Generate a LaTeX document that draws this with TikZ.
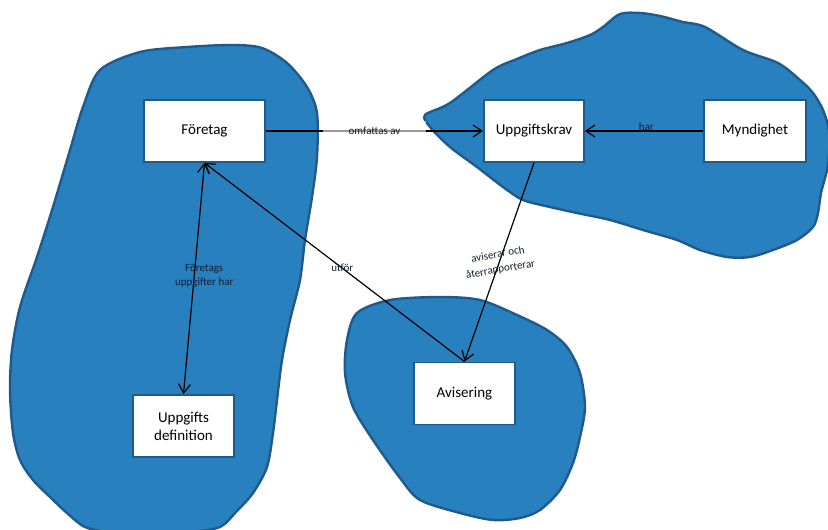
\documentclass[tikz,border=0pt]{standalone}
\usepackage{fontspec}
\setmainfont{Carlito}
\usetikzlibrary{arrows.meta}
\definecolor{blobfill}{RGB}{41,128,190}
\definecolor{blobline}{RGB}{30,90,140}
\definecolor{labeltext}{RGB}{20,30,45}
\tikzset{
  blob/.style={fill=blobfill, draw=blobline, line width=2.4pt, line join=round},
  entity/.style={draw=blobline, line width=1.8pt, fill=white, inner sep=0pt,
    minimum height=62pt, align=center, font=\fontsize{15}{18}\selectfont},
  link/.style={line width=1.2pt, draw=black},
  tip/.style={-{Straight Barb[length=9pt,width=12pt,line width=1.2pt]}},
  tips/.style={{Straight Barb[length=9pt,width=12pt,line width=1.2pt]}-{Straight Barb[length=9pt,width=12pt,line width=1.2pt]}},
  rel/.style={font=\fontsize{11}{14}\selectfont, text=labeltext, align=center, inner sep=1pt}
}
\begin{document}
\begin{tikzpicture}[x=1pt,y=-1pt]
\useasboundingbox (0,0) rectangle (828,530);
\clip (0,0) rectangle (828,530);
\fill[white] (0,0) rectangle (828,530);

% company region
\draw[blob] plot[smooth cycle, tension=0.5] coordinates {
  (100,70) (140,52) (187,47) (233,45) (262,48) (287,63) (307,87) (317,113)
  (317,157) (312,197) (305,240) (300,280) (290,320) (282,360) (277,400)
  (273,433) (267,467) (253,493) (236,512) (220,527) (190,532) (150,533)
  (110,532) (85,527) (67,513) (50,497) (33,480) (20,460) (13,433) (10,390)
  (12,350) (20,307) (37,257) (53,207) (70,150) (83,107)};

% authority region
\draw[blob] plot[smooth cycle, tension=0.5] coordinates {
  (425,115) (450,103) (493,70) (517,59) (540,50) (567,43) (590,35) (603,27)
  (620,14) (640,13) (660,16) (683,22) (705,27) (743,50) (778,63) (800,80)
  (813,93) (823,110) (829,132) (828,165) (821,193) (818,213)
  (813,227) (797,240) (773,250) (750,257) (727,257) (700,250) (677,240)
  (643,230) (610,220) (577,213) (550,207) (523,200) (503,187) (477,167)
  (450,147) (430,127)};

% notification region
\draw[blob] plot[smooth cycle, tension=0.5] coordinates {
  (357,313) (390,300) (440,297) (480,300) (517,315) (547,330) (567,347)
  (580,373) (585,407) (580,437) (573,463) (560,490) (540,510) (520,518)
  (493,520) (460,513) (420,500) (400,478) (373,440) (353,407) (345,373)
  (347,340)};

% entities
\node[entity, minimum width=121pt] (foretag) at (204.5,131) {Företag};
\node[entity, minimum width=101pt] (definition) at (183.5,426) {Uppgifts\\definition};
\node[entity, minimum width=100pt] (krav) at (534,131) {Uppgiftskrav};
\node[entity, minimum width=102pt] (myndighet) at (755,131) {Myndighet};
\node[entity, minimum width=101pt] (avisering) at (464.5,393.5) {Avisering};

% relations
\draw[link, tip] (foretag.east) -- (krav.west)
  node[rel, pos=0.5, fill=white, fill opacity=0.6, text opacity=1,
       minimum width=103pt, minimum height=20pt] {omfattas av};
\draw[link, tip] (myndighet.west) -- (krav.east)
  node[rel, pos=0.48, yshift=4pt] {har};
\draw[link, tips] (foretag.south) -- (definition.north)
  node[rel, pos=0.49, xshift=10pt] {Företags\\uppgifter har};
\draw[link, tip] (avisering.north) -- (foretag.south)
  node[rel, pos=0.47] {utför};
\draw[link, tip] (krav.south) -- (avisering.north)
  node[rel, pos=0.5, rotate=10, font=\fontsize{11}{15}\selectfont] {aviserar och\\återrapporterar};
\end{tikzpicture}
\end{document}
